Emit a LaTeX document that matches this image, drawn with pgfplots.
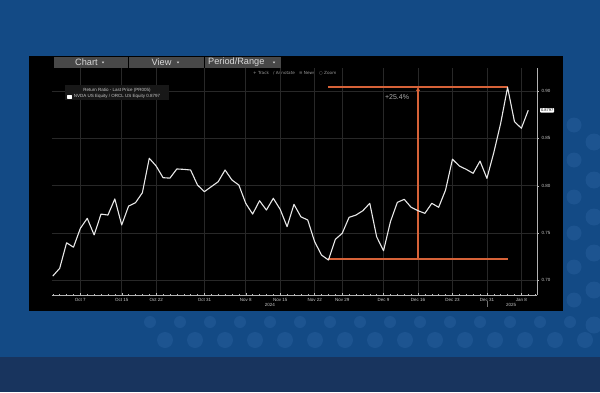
\documentclass[border=0pt]{standalone}
\usepackage{fontspec}
\setmainfont{Liberation Sans}
\newfontfamily\dejavu{DejaVu Sans}
\usepackage{pgfplots}
\pgfplotsset{compat=1.18}
\usetikzlibrary{arrows.meta}
\pgfdeclarelayer{background}
\pgfsetlayers{background,main}
\definecolor{bgblue}{RGB}{19,74,133}
\definecolor{bgnavy}{RGB}{24,52,94}
\definecolor{dotblue}{RGB}{29,84,144}
\definecolor{bbgray}{RGB}{72,72,72}
\definecolor{gridc}{RGB}{40,40,40}
\definecolor{annor}{RGB}{214,98,56}
\definecolor{linec}{RGB}{232,232,232}
\definecolor{txtc}{RGB}{200,200,200}
\definecolor{legbg}{RGB}{24,24,24}

\pgfplotstableread{
i v
0 0.7045
1 0.7127
2 0.7397
3 0.7350
4 0.7550
5 0.7655
6 0.7480
7 0.7700
8 0.7690
9 0.7860
10 0.7585
11 0.7785
12 0.7820
13 0.7926
14 0.8290
15 0.8208
16 0.8085
17 0.8080
18 0.8177
19 0.8173
20 0.8166
21 0.8007
22 0.7937
23 0.7990
24 0.8042
25 0.8166
26 0.8060
27 0.8007
28 0.7814
29 0.7700
30 0.7841
31 0.7743
32 0.7867
33 0.7750
34 0.7567
35 0.7803
36 0.7672
37 0.7637
38 0.7408
39 0.7267
40 0.7215
41 0.7433
42 0.7497
43 0.7666
44 0.7690
45 0.7736
46 0.7814
47 0.7460
48 0.7313
49 0.7620
50 0.7824
51 0.7856
52 0.7772
53 0.7736
54 0.7708
55 0.7814
56 0.7772
57 0.7955
58 0.8280
59 0.8208
60 0.8173
61 0.8131
62 0.8260
63 0.8078
64 0.8350
65 0.8660
66 0.9040
67 0.8677
68 0.8607
69 0.8797
}\ratio

\begin{document}
\begin{tikzpicture}[x=1pt,y=1pt]
\begin{axis}[
  name=ax,
  scale only axis, width=485.3pt, height=227pt,
  xmin=-0.16, xmax=70.27, ymin=0.6845, ymax=0.9244,
  axis x line*=bottom, axis y line*=right,
  axis line style={-, draw=white!70!black, line width=0.5pt},
  xtick={4,10,15,22,28,33,38,42,48,53,58,63,68},
  xticklabels={Oct 7,Oct 15,Oct 22,Oct 31,Nov 8,Nov 15,Nov 22,Nov 29,Dec 9,Dec 16,Dec 23,Dec 31,Jan 8},
  minor xtick={0,1,...,70},
  ytick={0.70,0.75,0.80,0.85,0.90},
  yticklabel={\pgfmathprintnumber[fixed,fixed zerofill,precision=2]{\tick}},
  /pgf/number format/assume math mode=true,
  xmajorgrids, ymajorgrids,
  major grid style={gridc, line width=0.5pt},
  tick style={white!75!black, line width=0.4pt},
  xtick align=inside, ytick align=outside,
  major tick length=2pt, minor tick length=1.2pt,
  ticklabel style={font=\fontsize{4.5}{5}\selectfont, text=txtc},
  xticklabel style={inner sep=1pt, yshift=-1.8pt},
  yticklabel style={inner sep=1pt, xshift=1.5pt},
  clip=false,
  legend style={at={(0.031,0.872)}, anchor=west, draw=none, fill=none,
    font=\fontsize{4.5}{5}\selectfont, text=txtc, inner sep=0.5pt},
  legend image code/.code={\fill[white] (0pt,-1.7pt) rectangle (3.4pt,1.7pt);},
]
\coordinate (bsw) at (rel axis cs:0,0);
\fill[legbg] (rel axis cs:0.0274,0.857) rectangle (rel axis cs:0.2417,0.925);
\node[font=\fontsize{4.5}{5}\selectfont, text=txtc, inner sep=0] at (rel axis cs:0.1346,0.903) {Return Ratio - Last Price (PR005)};
\addplot[color=annor, line width=1.6pt, forget plot] coordinates {(40,0.90433) (66,0.90433)};
\addplot[color=annor, line width=1.6pt, forget plot] coordinates {(40,0.72255) (66,0.72255)};
\addplot[color=annor, line width=1.4pt, forget plot, -{Triangle[length=4pt,width=3.6pt]}] coordinates {(53,0.72255) (53,0.90433)};
\node[text=white!68!black, font=\fontsize{7}{7}\selectfont] at (axis cs:49.96,0.8938) {+25.4\%};
\addplot[linec, line width=1.1pt, line join=round] table[x=i,y=v] {\ratio};
\addlegendentry{NVDA US Equity / ORCL US Equity 0.8797}
\node[fill=white, text=black, rounded corners=0.6pt, inner sep=0.8pt, anchor=west, font=\fontsize{4}{4}\selectfont] at ([xshift=3pt]axis cs:70.27,0.8797) {0.8797};
\node[font=\fontsize{4.5}{5}\selectfont, text=txtc] at ([yshift=-10pt]axis cs:31.5,0.6845) {2024};
\node[font=\fontsize{4.5}{5}\selectfont, text=txtc] at ([yshift=-10pt]axis cs:66.5,0.6845) {2025};
\draw[white!45!black, line width=0.4pt] ([yshift=-6pt]axis cs:63,0.6845) -- ([yshift=-12pt]axis cs:63,0.6845);
\end{axis}
\begin{scope}[shift={(bsw)}]
\begin{scope}[shift={(-51.7,-97)}]
\begin{pgfonlayer}{background}
\fill[bgblue] (0,0) rectangle (600,392);
\fill[bgnavy] (0,0) rectangle (600,35);
\foreach \yy in {125,160,197,233,267,300}{\fill[dotblue] (574,392-\yy) circle (7.5);}
\foreach \yy in {142,180,217,253,290,325}{\fill[dotblue] (594,392-\yy) circle (8.5);}
\foreach \xx in {150,180,210,240,270,300,330,360,390,420,450,480,510,540,570}{\fill[dotblue] (\xx,392-322) circle (6);}
\foreach \xx in {165,195,225,255,285,315,345,375,405,435,465,495,525,555,585}{\fill[dotblue] (\xx,392-340) circle (8);}
\fill[black] (29,81) rectangle (563,336);
\fill[bbgray] (53.6,324) rectangle (280.5,335);
\draw[black, line width=0.8] (128.6,324)--(128.6,335);
\draw[black, line width=0.8] (204.7,324)--(204.7,335);
\node[anchor=west, inner sep=0, text=white!85!black, font=\fontsize{9.2}{9.2}\selectfont] at (75,329.6) {Chart};
\node[anchor=west, inner sep=0, text=white!85!black, font=\fontsize{9.2}{9.2}\selectfont] at (151.5,329.6) {View};
\node[anchor=west, inner sep=0, text=white!85!black, font=\fontsize{9.2}{9.2}\selectfont] at (208,329.6) {Period/Range};
\foreach \tx in {103,178,274}{\fill[white!85!black] (\tx-1.2,330.4)--(\tx+1.2,330.4)--(\tx,328.6)--cycle;}
\node[anchor=west, inner sep=0, text=gray!80!white, font=\dejavu\fontsize{4.2}{4.2}\selectfont] at (253,319) {+ Track \ \ ∕ Annotate \ \ ≡ News \ \ ○ Zoom};
\end{pgfonlayer}
\pgfresetboundingbox
\path[use as bounding box] (0,0) rectangle (600,392);
\end{scope}
\end{scope}
\end{tikzpicture}
\end{document}
